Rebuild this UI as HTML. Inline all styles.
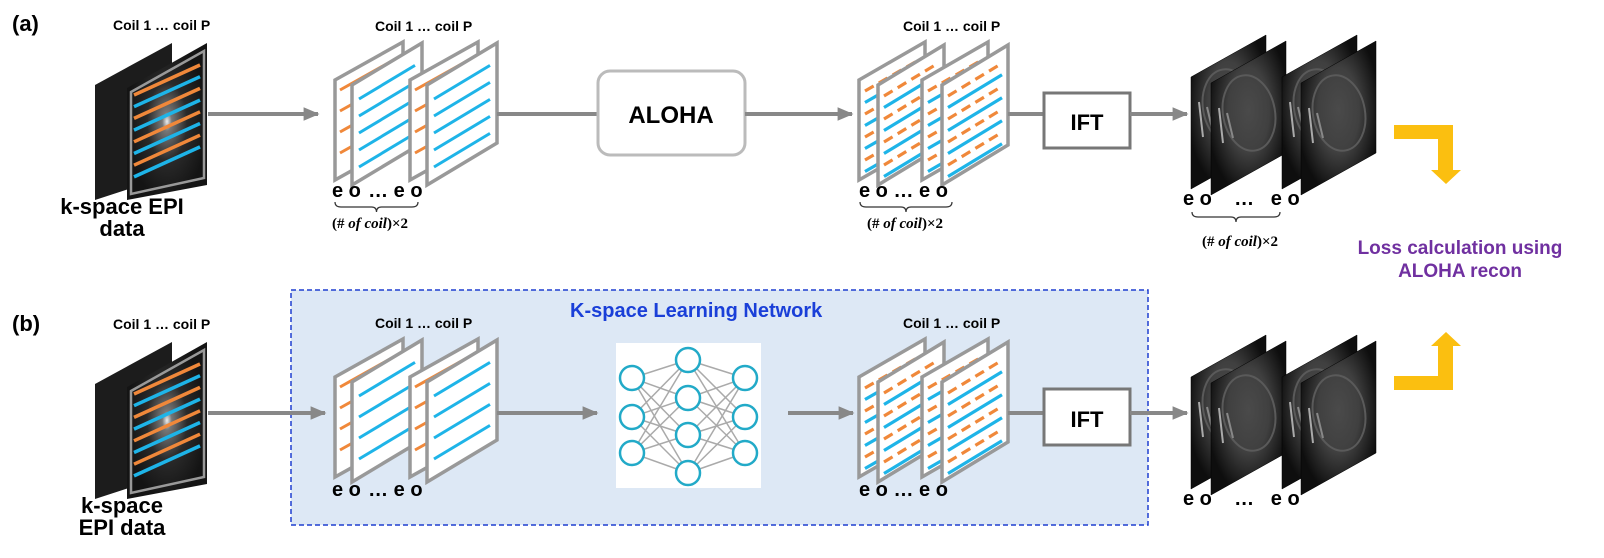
<!DOCTYPE html>
<html><head><meta charset="utf-8">
<style>
html,body{margin:0;padding:0;background:#fff;}
svg{display:block;}
text{font-family:"Liberation Sans",sans-serif;font-weight:bold;}
.ser{font-family:"Liberation Serif",serif;font-weight:bold;}
</style></head><body>
<svg id="s" width="1604" height="558" viewBox="0 0 1604 558" xmlns="http://www.w3.org/2000/svg">
<defs>
<radialGradient id="kg" cx="0.5" cy="0.5" r="0.5">
<stop offset="0" stop-color="#eee"/><stop offset="0.12" stop-color="#777"/><stop offset="0.5" stop-color="#2a2a2a"/><stop offset="1" stop-color="#141414"/>
</radialGradient>
<radialGradient id="bg" cx="0.5" cy="0.45" r="0.55">
<stop offset="0" stop-color="#4a4a4a"/><stop offset="0.5" stop-color="#404040"/><stop offset="0.72" stop-color="#2a2a2a"/><stop offset="1" stop-color="#0e0e0e"/>
</radialGradient>
<marker id="ah" markerWidth="4" markerHeight="4" refX="3.6" refY="2" orient="auto" markerUnits="strokeWidth"><path d="M0,0.3 L4,2 L0,3.7z" fill="#888"/></marker>
</defs>
<rect x="291" y="290" width="857" height="235" fill="#dde8f5" stroke="#1f3fd0" stroke-width="1.5" stroke-dasharray="5,3"/>
<g id="g"></g>
</svg>
<script>
var o='';
function P(a){return a.map(function(p){return p[0]+','+p[1]}).join(' ');}
function poly(pts,fill,stroke,sw){o+='<polygon points="'+P(pts)+'" fill="'+fill+'" stroke="'+(stroke||'none')+'" stroke-width="'+(sw||0)+'"/>';}
function line(x1,y1,x2,y2,c,w,extra){o+='<line x1="'+x1+'" y1="'+y1+'" x2="'+x2+'" y2="'+y2+'" stroke="'+c+'" stroke-width="'+w+'" '+(extra||'')+'/>';}
function txt(x,y,s,size,col,anchor,cls){o+='<text x="'+x+'" y="'+y+'" font-size="'+size+'" fill="'+(col||'#000')+'" text-anchor="'+(anchor||'start')+'"'+(cls?' class="'+cls+'"':'')+'>'+s+'</text>';}
function arrow(x1,y,x2,head){line(x1,y,x2,y,'#888',4,head?'marker-end="url(#ah)"':'');}
var OR='#f0883a',BL='#1eb4e8';
function plane(L,T,w,h,rise,kind,n){
  poly([[L,T],[L+w,T-rise],[L+w,T-rise+h],[L,T+h]],'#fff','#999',3.5);
  var s=rise/w;
  if(kind=='o'){for(var i=0;i<4;i++){var y=T+10+i*21;line(L+5,y,L+w-6,y-(w-11)*s,OR,3);}}
  if(kind=='b'){for(var i=0;i<n;i++){var y=T+14+i*(n==5?17:21);line(L+7,y,L+w-7,y-(w-14)*s,BL,3);}}
  if(kind=='m'){for(var i=0;i<8;i++){var y=T+11+i*11.5;line(L+6,y,L+w-6,y-(w-12)*s,i%2?BL:OR,3.2,i%2?'':'stroke-dasharray="10,6"');}}
}
function group2(T,n){plane(335,T,68,100,38,'o');plane(352,T+5,70,100,42,'b',n);plane(410,T,68,100,38,'o');plane(427,T+5,70,100,42,'b',n);}
function group3(T){plane(859,T,66,100,38,'m');plane(878,T+5,66,100,40,'m');plane(922,T,66,100,38,'m');plane(942,T+5,66,100,40,'m');}
function brains(T){
  var xs=[1191,1211,1282,1301];
  for(var i=0;i<4;i++){var t=T+(i%2?6:0),x=xs[i];
  poly([[x,t],[x+75,t-42],[x+75,t-42+112],[x,t+112]],'url(#bg)','#000',0.5);
  o+='<ellipse cx="'+(x+38)+'" cy="'+(t+30)+'" rx="26" ry="38" fill="none" stroke="#5a5a5a" stroke-width="2" transform="rotate(-10 '+(x+38)+' '+(t+30)+')"/>';
  line(x+8,t+25,x+12,t+60,'#aaa',2);line(x+16,t+30,x+22,t+55,'#888',2);}
}
function input(T){
  poly([[95,T-5],[172,T-47],[172,T+85],[95,T+110]],'#1c1c1c');
  poly([[127,T-2],[207,T-47],[207,T+95],[127,T+110]],'url(#kg)');
  poly([[131,T+2],[204,T-39],[204,T+88],[131,T+104]],'none','#999',2.5);
  for(var i=0;i<8;i++){var y=T+5+i*11.7;line(134,y,200,y-30,i%2?BL:OR,3.5);}
}
function brace(x1,x2,y){var m=(x1+x2)/2;o+='<path d="M'+x1+','+y+' q0,5 6,5 L'+(m-5)+','+(y+5)+' q5,0 5,5 q0,-5 5,-5 L'+(x2-6)+','+(y+5)+' q6,0 6,-5" fill="none" stroke="#333" stroke-width="1.2"/>';}
function coil(x,y){txt(x,y,'Coil 1 … coil P',14);}

// ROW A
txt(12,31,'(a)',22);
coil(113,30); input(90);
txt(122,214,'k-space EPI',22,'#000','middle'); txt(122,236,'data',22,'#000','middle');
arrow(208,114,318,true);
coil(375,31); group2(80,5);
txt(332,197,'e o &#8202;… e o',20);
brace(335,418,202); txt(370,228,'(# <tspan font-style="italic">of coil</tspan>)×2',15,'#000','middle','ser');
arrow(497,114,598,false);
o+='<rect x="598" y="71" width="147" height="84" rx="12" fill="#fff" stroke="#bbb" stroke-width="3"/>';
txt(671,123,'ALOHA',24,'#000','middle');
arrow(745,114,852,true);
coil(903,31); group3(80);
txt(859,197,'e o … e o',20);
brace(860,952,202); txt(905,228,'(# <tspan font-style="italic">of coil</tspan>)×2',15,'#000','middle','ser');
line(1008,114,1044,114,'#888',4);
o+='<rect x="1044" y="93" width="86" height="55" fill="#fff" stroke="#777" stroke-width="3"/>';
txt(1087,130,'IFT',22,'#000','middle');
arrow(1130,114,1187,true);
brains(77);
txt(1183,205,'e o &#160;&#160;&#160;… &#160;&#160;e o',20);
brace(1192,1280,212); txt(1240,246,'(# <tspan font-style="italic">of coil</tspan>)×2',15,'#000','middle','ser');
// yellow
poly([[1394,125],[1453,125],[1453,170],[1461,170],[1446,184],[1431,170],[1438,170],[1438,139],[1394,139]],'#fbbf10');
poly([[1394,390],[1453,390],[1453,346],[1461,346],[1446,332],[1431,346],[1438,346],[1438,376],[1394,376]],'#fbbf10');
txt(1460,254,'Loss calculation using',19,'#7030a0','middle');
txt(1460,277,'ALOHA recon',19,'#7030a0','middle');

// ROW B
txt(12,331,'(b)',22);
coil(113,329); input(389);
txt(122,513,'k-space',22,'#000','middle'); txt(122,535,'EPI data',22,'#000','middle');
arrow(208,413,325,true);
txt(570,317,'K-space Learning Network',20,'#1a3fd8');
coil(375,328); group2(377,4);
txt(332,496,'e o &#8202;… e o',20);
arrow(497,413,597,true);
// NN
o+='<rect x="616" y="343" width="145" height="145" fill="#fff"/>';
var Lc=[[632,378],[632,417],[632,453]],Mc=[[688,360],[688,398],[688,435],[688,473]],Rc=[[745,378],[745,417],[745,453]];
Lc.forEach(function(a){Mc.forEach(function(b){line(a[0],a[1],b[0],b[1],'#aaa',1.5);});});
Mc.forEach(function(a){Rc.forEach(function(b){line(a[0],a[1],b[0],b[1],'#aaa',1.5);});});
Lc.concat(Mc,Rc).forEach(function(c){o+='<circle cx="'+c[0]+'" cy="'+c[1]+'" r="12" fill="#fff" stroke="#22aac8" stroke-width="2.5"/>';});
arrow(788,413,853,true);
coil(903,328); group3(377);
txt(859,496,'e o … e o',20);
line(1008,413,1044,413,'#888',4);
o+='<rect x="1044" y="389" width="86" height="56" fill="#fff" stroke="#777" stroke-width="3"/>';
txt(1087,427,'IFT',22,'#000','middle');
arrow(1130,413,1187,true);
brains(377);
txt(1183,505,'e o &#160;&#160;&#160;… &#160;&#160;e o',20);
document.getElementById('g').innerHTML=o;
</script>
</body></html>
